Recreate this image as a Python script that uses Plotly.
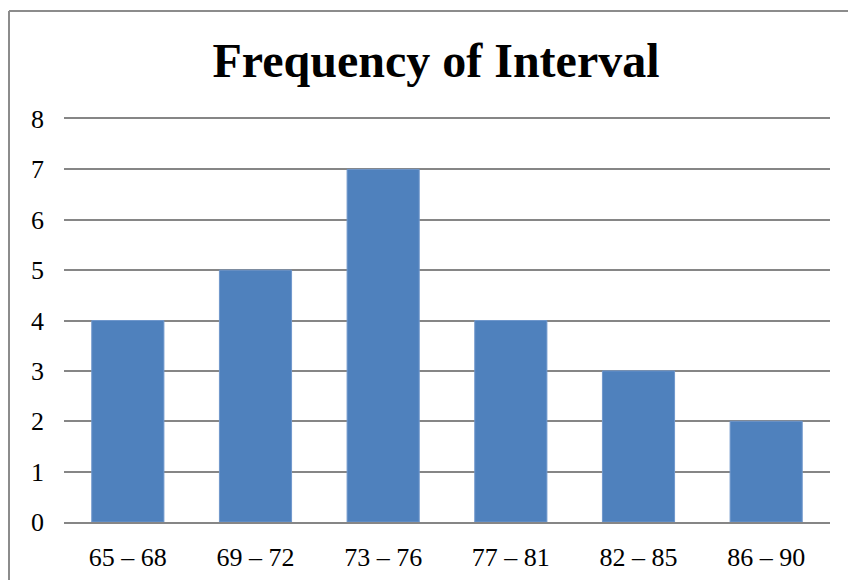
import plotly.graph_objects as go

# Frequency table of score intervals
intervals = ["65 – 68", "69 – 72", "73 – 76", "77 – 81", "82 – 85", "86 – 90"]
frequency = [4, 5, 7, 4, 3, 2]
y_ticks = [0, 1, 2, 3, 4, 5, 6, 7, 8]

W, H = 848, 580
L, R, T, B = 64, 18, 119, 58
plot_w = W - L - R
plot_h = H - T - B

fig = go.Figure(
    go.Bar(
        x=intervals,
        y=frequency,
        marker=dict(color="#4F81BD", line=dict(color="#6f97cc", width=1)),
        width=0.565,
    )
)

serif = "Liberation Serif, Times New Roman, serif"

# frame around the chart area
left_px, top_px = 9, 11
x_left = (left_px - L) / plot_w
y_top = (H - B - top_px) / plot_h
fig.add_shape(type="line", xref="paper", yref="paper",
              x0=x_left, x1=1.2, y0=y_top, y1=y_top,
              line=dict(color="#8c8c8c", width=2), layer="above")
fig.add_shape(type="line", xref="paper", yref="paper",
              x0=x_left, x1=x_left, y0=-0.3, y1=y_top,
              line=dict(color="#8c8c8c", width=2), layer="above")

fig.update_layout(
    width=W, height=H,
    margin=dict(l=L, r=R, t=T, b=B),
    paper_bgcolor="white",
    plot_bgcolor="white",
    showlegend=False,
    bargap=0.435,
    title=dict(
        text="<b>Frequency of Interval</b>",
        font=dict(family=serif, size=48, color="black"),
        x=436 / W, xref="container", xanchor="center",
        y=1 - 60 / H, yref="container", yanchor="middle",
    ),
    xaxis=dict(
        tickfont=dict(family=serif, size=26, color="black"),
        showgrid=False,
        # bottom axis line, mirrored to give the top (8) grid line
        showline=True, mirror=True, linecolor="#868686", linewidth=2,
        ticks="", ticklabelstandoff=11, automargin=False,
    ),
    yaxis=dict(
        range=[0, 8],
        tickvals=y_ticks,
        tickfont=dict(family=serif, size=26, color="black"),
        showgrid=True, gridcolor="#868686", gridwidth=2,
        zeroline=False, showline=False,
        ticks="", ticklabelstandoff=19, automargin=False,
    ),
)

fig.write_html("out.html")
